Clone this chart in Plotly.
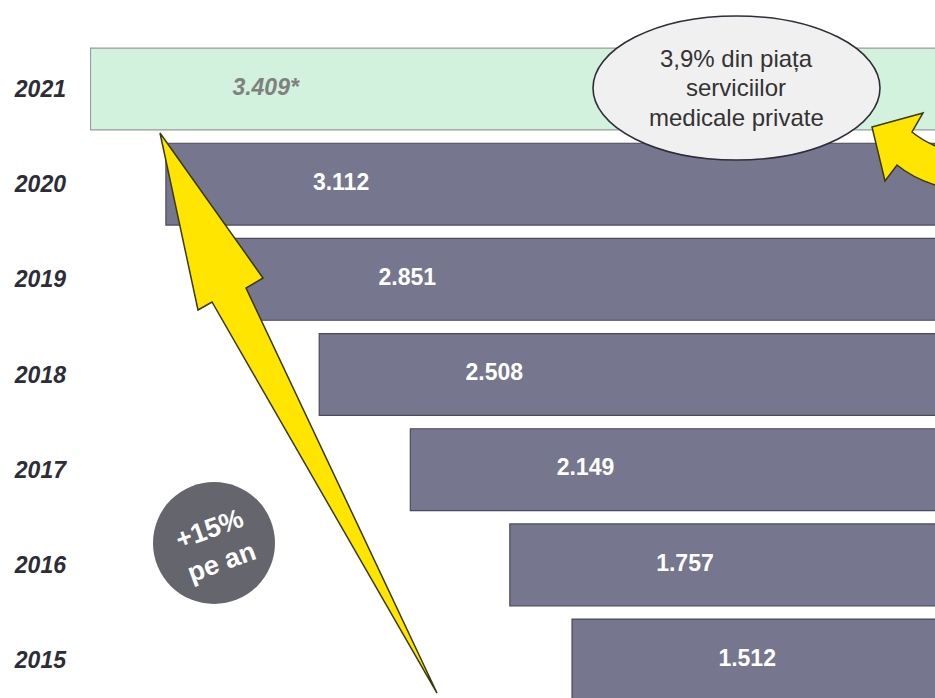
import plotly.graph_objects as go

# ---- data ----
years = ["2015", "2016", "2017", "2018", "2019", "2020", "2021"]
values = [1512, 1757, 2149, 2508, 2851, 3112, 3409]
estimated = [False, False, False, False, False, False, True]
bubble_lines = ["3,9% din piața", "serviciilor", "medicale private"]
growth_text = "+15%<br>pe an"

# ---- style ----
W, H = 935, 698
ML, MR, MT, MB = 90, 0, 0, 0
BAR_COLOR = "#76768e"
EST_COLOR = "#d2f2de"
LABEL_OFFSET = 690
FONT = "Liberation Sans, Arial, sans-serif"

def px(x):
    return (x - ML) / (W - ML - MR)

def py(y):
    return 1 - (y - MT) / (H - MT - MB)

def fmt(v):
    return f"{v:,}".replace(",", ".")

fig = go.Figure()

fig.add_trace(go.Bar(
    y=years, x=values, orientation="h", width=0.86,
    marker=dict(color=[EST_COLOR if e else BAR_COLOR for e in estimated],
                line=dict(color=["#9a9a9a" if e else "#4a4a5c" for e in estimated], width=1.2)),
    hoverinfo="skip", showlegend=False,
))

act_y = [y for y, e in zip(years, estimated) if not e]
act_v = [v for v, e in zip(values, estimated) if not e]
est_y = [y for y, e in zip(years, estimated) if e]
est_v = [v for v, e in zip(values, estimated) if e]

fig.add_trace(go.Scatter(
    y=act_y, x=[v - LABEL_OFFSET for v in act_v], mode="text",
    text=[fmt(v) for v in act_v],
    textfont=dict(family=FONT, size=23, color="white", weight="bold"),
    hoverinfo="skip", showlegend=False,
))
fig.add_trace(go.Scatter(
    y=est_y, x=[v - LABEL_OFFSET for v in est_v], mode="text",
    text=[fmt(v) + "*" for v in est_v],
    textfont=dict(family=FONT, size=23, color="#808080", weight="bold", style="italic"),
    hoverinfo="skip", showlegend=False,
))

shapes = []
def P(x, y):
    return f"{px(x):.5f},{py(y):.5f}"

# big yellow arrow
big = [(160, 133), (263, 278), (246, 288), (437, 693), (212, 302), (198, 310)]
path = "M " + " L ".join(P(x, y) for x, y in big) + " Z"
shapes.append(dict(type="path", xref="paper", yref="paper", path=path,
                   fillcolor="#ffe500", line=dict(color="#3a3a10", width=1.5), layer="above"))

# small curved arrow (top right)
small = (f"M {P(872,127)} L {P(923,113)} L {P(912,132)} Q {P(924,142)} {P(945,150)} "
         f"L {P(945,188)} Q {P(915,180)} {P(897,165)} L {P(885,181)} Z")
shapes.append(dict(type="path", xref="paper", yref="paper", path=small,
                   fillcolor="#ffe500", line=dict(color="#3a3a10", width=1.5), layer="above"))

# ellipse bubble
shapes.append(dict(type="circle", xref="paper", yref="paper",
                   x0=px(593), x1=px(880), y0=py(160), y1=py(16),
                   fillcolor="#f0f0f0", line=dict(color="#2e2e3a", width=1.6), layer="above"))

# growth circle
shapes.append(dict(type="circle", xref="paper", yref="paper",
                   x0=px(153), x1=px(275), y0=py(604), y1=py(482),
                   fillcolor="#65656d", line=dict(width=0), layer="above"))

annotations = []
for i, line in enumerate(bubble_lines):
    annotations.append(dict(xref="paper", yref="paper", x=px(736), y=py(58 + 29.5 * i),
                             text=line, showarrow=False, xanchor="center", yanchor="middle",
                             font=dict(family=FONT, size=24, color="#333333")))
annotations.append(dict(xref="paper", yref="paper", x=px(215), y=py(545), text=growth_text,
                        showarrow=False, textangle=-20, xanchor="center", yanchor="middle",
                        font=dict(family=FONT, size=27, color="white", weight="bold")))

fig.update_layout(
    width=W, height=H,
    margin=dict(l=ML, r=MR, t=MT, b=MB),
    plot_bgcolor="white", paper_bgcolor="white",
    bargap=0.1,
    shapes=shapes, annotations=annotations,
    xaxis=dict(range=[3411, 82], visible=False, showgrid=False, zeroline=False, fixedrange=True),
    yaxis=dict(type="category", categoryorder="array", categoryarray=years,
               range=[-0.399, 6.935], showgrid=False, zeroline=False, showline=False,
               ticks="", ticklabelstandoff=23, automargin=False, fixedrange=True,
               tickfont=dict(family=FONT, size=23, color="#2d2d38", weight="bold", style="italic")),
)

fig.write_html("out.html", config={"displayModeBar": False},
               post_script="document.body.style.margin='0';document.body.style.overflow='hidden';")
